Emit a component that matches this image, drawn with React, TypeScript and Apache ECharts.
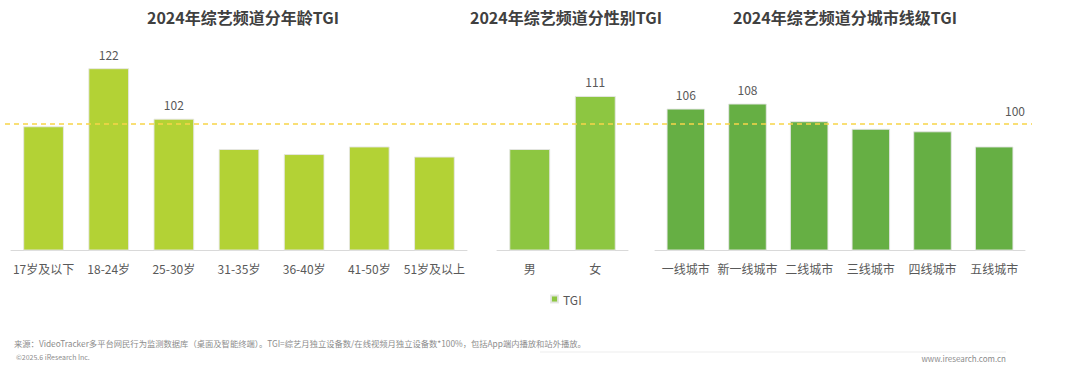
import React, { useEffect, useRef } from "react";
import * as echarts from "echarts";

const ageCategories = ["17岁及以下", "18-24岁", "25-30岁", "31-35岁", "36-40岁", "41-50岁", "51岁及以上"];
const ageValues = [99, 122, 102, 90, 88, 91, 87];
const ageLabeled = [false, true, true, false, false, false, false];

const genderCategories = ["男", "女"];
const genderValues = [90, 111];
const genderLabeled = [false, true];

const cityCategories = ["一线城市", "新一线城市", "二线城市", "三线城市", "四线城市", "五线城市"];
const cityValues = [106, 108, 101, 98, 97, 91];
const cityLabeled = [true, true, false, false, false, false];

const referenceValue = 100;
const yMin = 50;
const yMax = 130;

const titles = ["2024年综艺频道分年龄TGI", "2024年综艺频道分性别TGI", "2024年综艺频道分城市线级TGI"];
const sourceText =
  "来源：VideoTracker多平台网民行为监测数据库（桌面及智能终端）。TGI=综艺月独立设备数/在线视频月独立设备数*100%，包括App端内播放和站外播放。";
const copyrightText = "©2025.6 iResearch Inc.";
const siteText = "www.iresearch.com.cn";

const FONT = "'Noto Sans CJK SC', 'Noto Sans', sans-serif";
const COLORS = ["#B3D235", "#8DC641", "#66AF44"];

export default function App() {
  const ref = useRef<HTMLDivElement>(null);
  useEffect(() => {
    if (!ref.current) return;
    const chart = echarts.init(ref.current, null, { renderer: "svg" });
    const TOP = 48;
    const BOTTOM = 118;
    const grids = [
      { left: 11, width: 456, top: TOP, bottom: BOTTOM },
      { left: 497, width: 131, top: TOP, bottom: BOTTOM },
      { left: 655, width: 370, top: TOP, bottom: BOTTOM },
      { left: 5, right: 48, top: TOP, bottom: BOTTOM },
    ];
    const cats = [ageCategories, genderCategories, cityCategories];
    const vals = [ageValues, genderValues, cityValues];
    const labeled = [ageLabeled, genderLabeled, cityLabeled];
    const xAxes: any[] = cats.map((c, i) => ({
      type: "category",
      gridIndex: i,
      data: c,
      axisLine: { show: true, lineStyle: { color: "#D9D9D9", width: 1 } },
      axisTick: { show: false },
      axisLabel: { color: "#595959", fontSize: 12, fontFamily: FONT, margin: 12, interval: 0 },
    }));
    xAxes.push({ type: "value", gridIndex: 3, min: 0, max: 1, show: false });
    const yAxes: any[] = [0, 1, 2, 3].map((i) => ({
      type: "value",
      gridIndex: i,
      min: yMin,
      max: yMax,
      show: false,
    }));
    const series: any[] = vals.map((v, i) => ({
      name: "TGI",
      type: "bar",
      xAxisIndex: i,
      yAxisIndex: i,
      barCategoryGap: "37.5%",
      itemStyle: { color: COLORS[i], borderColor: "rgba(230,230,230,0.9)", borderWidth: 1 },
      data: v.map((value, j) => ({
        value,
        label: {
          show: labeled[i][j],
          position: "top",
          distance: 8,
          color: "#595959",
          fontSize: 12,
          fontFamily: FONT,
        },
      })),
    }));
    series.push({
      name: "ref",
      type: "line",
      xAxisIndex: 3,
      yAxisIndex: 3,
      data: [
        [0, referenceValue],
        [1, referenceValue],
      ],
      showSymbol: false,
      lineStyle: { opacity: 0 },
      silent: true,
      z: 5,
      markLine: {
        silent: true,
        symbol: "none",
        data: [{ yAxis: referenceValue }],
        lineStyle: { type: [5, 4], color: "#F8D548", width: 1.5 },
        label: {
          position: "insideEndTop",
          formatter: String(referenceValue),
          color: "#595959",
          fontSize: 12,
          fontFamily: FONT,
          distance: 7,
        },
      },
    });
    const titleCenters = [238, 561, 840];
    chart.setOption({
      animation: false,
      title: titles.map((t, i) => ({
        text: t,
        left: titleCenters[i],
        top: 4,
        textAlign: "center",
        textStyle: { color: "#404040", fontSize: 16, fontWeight: "bold", fontFamily: FONT },
      })),
      legend: {
        data: [{ name: "TGI", itemStyle: { color: COLORS[1] } }],
        left: 545,
        top: 288,
        icon: "rect",
        itemWidth: 7,
        itemHeight: 7,
        itemGap: 4,
        textStyle: { color: "#595959", fontSize: 12, fontFamily: FONT },
      },
      grid: grids,
      xAxis: xAxes,
      yAxis: yAxes,
      series,
      graphic: [
        {
          type: "text",
          left: 14,
          top: 339,
          style: { text: sourceText, fill: "#8C8C8C", fontSize: 8.3, fontFamily: FONT },
        },
        {
          type: "text",
          left: 16,
          top: 353,
          style: { text: copyrightText, fill: "#8C8C8C", fontSize: 7, fontFamily: FONT },
        },
        {
          type: "line",
          shape: { x1: 540, y1: 352, x2: 1006, y2: 352 },
          style: { stroke: "#EDEDED", lineWidth: 1 },
        },
        {
          type: "text",
          right: 74,
          top: 354,
          style: { text: siteText, fill: "#8C8C8C", fontSize: 8, fontFamily: FONT },
        },
      ],
    });
    return () => chart.dispose();
  }, []);
  return (
    <div
      ref={ref}
      style={{ position: "fixed", left: 0, top: 0, width: 1080, height: 368, background: "#fff" }}
    />
  );
}
